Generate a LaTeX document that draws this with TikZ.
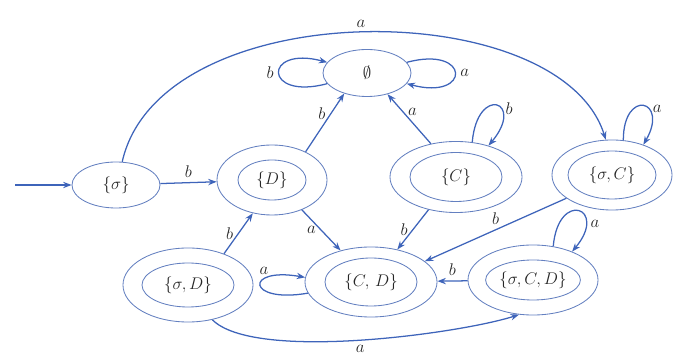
\documentclass[tikz,border=0pt]{standalone}
\usepackage{amsmath,amssymb}
\usepackage{xcolor}
\usepackage{tikz}
\usetikzlibrary{shapes.geometric,arrows.meta}
\definecolor{edgeblue}{RGB}{62,100,186}
\definecolor{ringblue}{RGB}{100,128,192}

\begin{document}
\begin{tikzpicture}[x=0.025cm,y=0.025cm,
  st/.style={ellipse,draw=ringblue,line width=0.6pt,inner sep=0pt,font=\large,text=black!85},
  tr/.style={-{Stealth[length=6pt,width=4.5pt]},draw=edgeblue,line width=0.9pt},
  lbl/.style={font=\large,text=black!85}]
  \useasboundingbox (0,0) rectangle (677,361);
  \node[st,minimum width=2.2cm,minimum height=1.175cm] (emp) at (367,288) {$\emptyset$};
  \node[st,minimum width=2.2cm,minimum height=1.15cm] (sig) at (116,176) {$\{\sigma\}$};
  \node[st,minimum width=2.75cm,minimum height=1.75cm] (D) at (272,181) {};
  \node[st,minimum width=1.7cm,minimum height=1cm] (D-in) at (D) {$\{D\}$};
  \node[st,minimum width=3.3cm,minimum height=1.775cm] (C) at (456,184) {};
  \node[st,minimum width=2.3cm,minimum height=1.225cm] (C-in) at (C) {$\{C\}$};
  \node[st,minimum width=3cm,minimum height=1.75cm] (sC) at (612,186) {};
  \node[st,minimum width=2.2cm,minimum height=1.2cm] (sC-in) at (sC) {$\{\sigma,C\}$};
  \node[st,minimum width=3.3cm,minimum height=1.75cm] (CD) at (371,79) {};
  \node[st,minimum width=2.3cm,minimum height=1.2cm] (CD-in) at (CD) {$\{C,\,D\}$};
  \node[st,minimum width=3.25cm,minimum height=1.75cm] (sCD) at (533,81) {};
  \node[st,minimum width=2.25cm,minimum height=1cm] (sCD-in) at (sCD) {$\{\sigma,C,D\}$};
  \node[st,minimum width=3.25cm,minimum height=1.85cm] (sD) at (188,76) {};
  \node[st,minimum width=2.3cm,minimum height=1.1cm] (sD-in) at (sD) {$\{\sigma,D\}$};
  \coordinate (start) at (15,176);

  \draw[tr] (start) -- (sig);
  \draw[tr] (sig) -- node[lbl,above] {$b$} (D);
  \draw[tr] (sig.75) .. controls (160,368) and (560,368) .. node[lbl,above] {$a$} (sC.100);
  \draw[tr] (emp) to[out=195,in=165,looseness=8] node[lbl,left] {$b$} (emp);
  \draw[tr] (emp) to[out=15,in=-15,looseness=8] node[lbl,right] {$a$} (emp);
  \draw[tr] (D.40) -- node[lbl,left,pos=0.65] {$b$} (emp.222);
  \draw[tr] (C.127) -- node[lbl,right,pos=0.65] {$a$} (emp.314);
  \draw[tr] (C.65) to[out=85,in=50,looseness=9] node[lbl,right,pos=0.6] {$b$} (C.44);
  \draw[tr] (sC.72) to[out=90,in=60,looseness=6.5] node[lbl,right,pos=0.6] {$a$} (sC.44);
  \draw[tr] (D.-45) -- node[lbl,left] {$a$} (CD.134);
  \draw[tr] (C.230) -- node[lbl,left] {$b$} (CD.51);
  \draw[tr] (sC.207) -- node[lbl,above] {$b$} (CD.21);
  \draw[tr] (sCD.59) to[out=85,in=50,looseness=7.5] node[lbl,right,pos=0.75] {$a$} (sCD.36);
  \draw[tr] (sCD) -- node[lbl,above] {$b$} (CD);
  \draw[tr] (CD.190) to[out=190,in=170,looseness=10] node[lbl,above,pos=0.65] {$a$} (CD.176);
  \draw[tr] (sD.41) -- node[lbl,left] {$b$} (D.240);
  \draw[tr] (sD.-55) to[out=-45,in=198,looseness=0.5] node[lbl,below] {$a$} (sCD.248);
\end{tikzpicture}
\end{document}
